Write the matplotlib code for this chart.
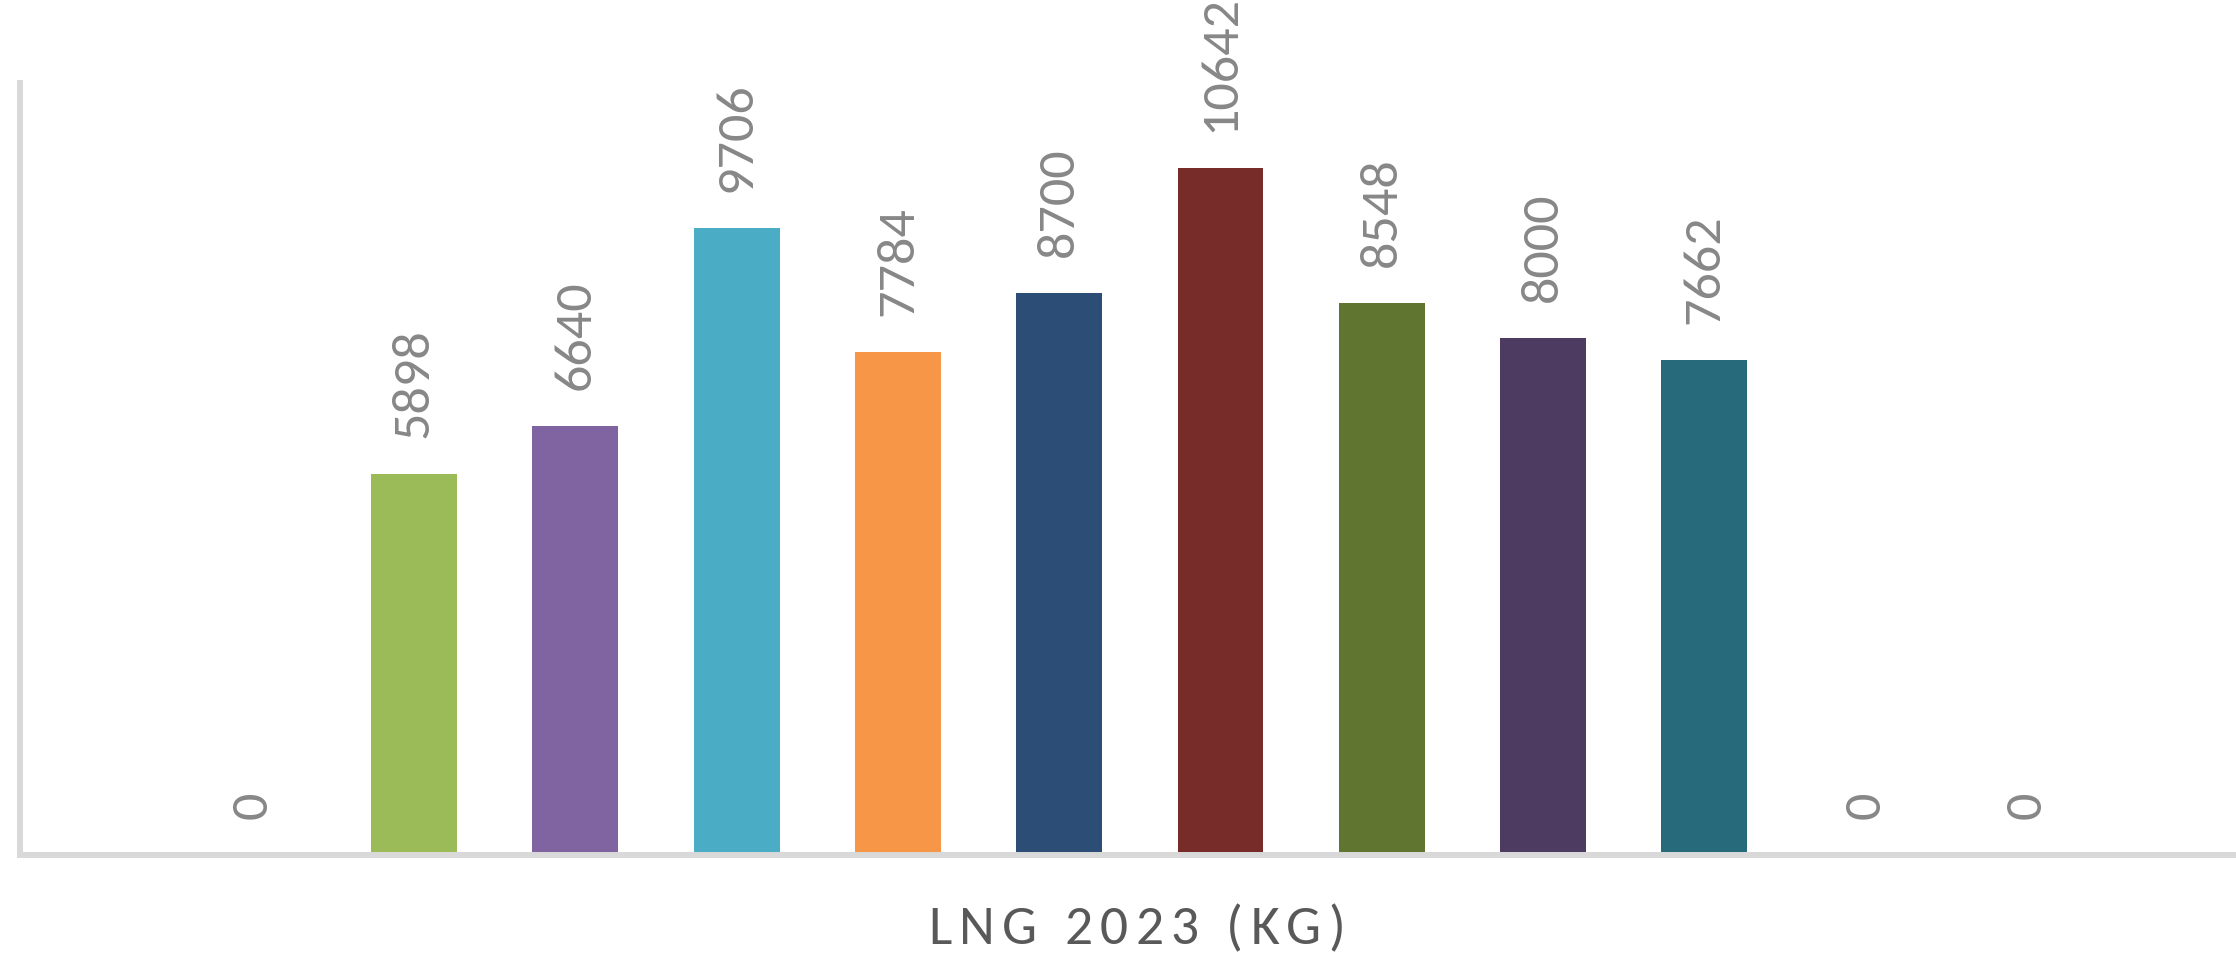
import matplotlib
matplotlib.use("Agg")
import matplotlib.pyplot as plt
from matplotlib import font_manager, ft2font
from matplotlib.font_manager import FontProperties

# LNG 2023 (kg) per month
months = ["Jan", "Feb", "Mar", "Apr", "May", "Jun",
          "Jul", "Aug", "Sep", "Oct", "Nov", "Dec"]
values = [0, 5898, 6640, 9706, 7784, 8700, 10642, 8548, 8000, 7662, 0, 0]
colors = ["#C0504D", "#9BBB59", "#8064A2", "#4BACC6", "#F79646", "#2C4D75",
          "#772C2A", "#5F7530", "#4D3B62", "#276A7C", "#B65708", "#3A5F8F"]
title = "LNG 2023 (KG)"

W, H, DPI = 2236, 955, 100
FONT = "Carlito"

fig = plt.figure(figsize=(W / DPI, H / DPI), dpi=DPI)
ax = fig.add_axes([20 / W, 100 / H, (W - 20) / W, 772 / H])

x = list(range(len(months)))
ax.bar(x, values, width=0.533, color=colors, zorder=2)

for xi, v in zip(x, values):
    ax.annotate(str(v), (xi, v), xytext=(0, 26), textcoords="offset points",
                rotation=90, ha="center", va="bottom", fontsize=39,
                color="#878787", family=FONT)

ax.set_xlim(-1.443, 12.296)
ax.set_ylim(0, 11954)
ax.set_xticks([])
ax.set_yticks([])
for s in ["top", "right"]:
    ax.spines[s].set_visible(False)
for s in ["left", "bottom"]:
    ax.spines[s].set_color("#D9D9D9")
    ax.spines[s].set_linewidth(4.3)


def spaced_text(s, cx, baseline, size, spacing, color):
    # letter-spaced title, one glyph at a time (positions in figure pixels)
    font = ft2font.FT2Font(font_manager.findfont(FontProperties(family=FONT)))
    font.set_size(size, DPI)
    adv = [font.load_char(ord(c)).linearHoriAdvance / 65536 for c in s]
    total = sum(adv) + spacing * (len(s) - 1)
    px = cx - total / 2
    for c, a in zip(s, adv):
        if c != " ":
            fig.text(px / W, 1 - baseline / H, c, ha="left", va="baseline",
                     fontsize=size, color=color, family=FONT)
        px += a + spacing


spaced_text(title, 1137, 944, 40, 7.3, "#595959")

fig.savefig("out.png", dpi=DPI, facecolor="white")
